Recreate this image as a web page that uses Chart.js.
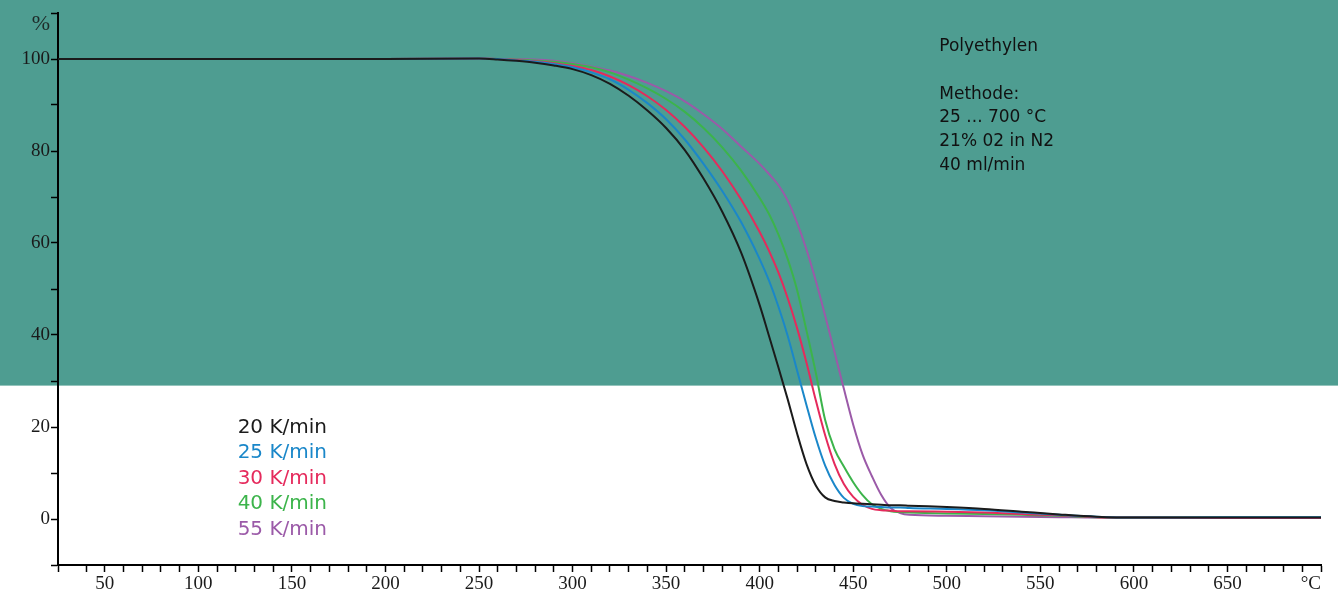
<!DOCTYPE html>
<html>
<head>
<meta charset="utf-8">
<title>Polyethylen TGA</title>
<script src="https://cdn.jsdelivr.net/npm/chart.js@4.4.1/dist/chart.umd.min.js"></script>
<style>
    html, body { margin: 0; padding: 0; background: #fff; }
    #wrap { width: 1338px; height: 596px; position: relative; }
</style>
</head>
<body>
<div id="wrap"><canvas id="tga"></canvas></div>
<script>
// --- DATA ---
const temps = [25, 50, 100, 150, 200,
    250, 260, 270, 280, 290, 300, 310, 320, 330, 340, 350, 360, 370, 380, 390,
    400, 405, 410, 415, 420, 425, 430, 435, 440, 445, 450, 455, 460, 465, 470, 475, 480,
    500, 520, 540, 560, 580, 600, 650, 700];

const rate20 = [100, 100, 100, 100, 100,
    100.1, 99.9, 99.6, 99.2, 98.6, 97.8, 96.5, 94.6, 92.0, 88.8, 85.0, 80.2, 74.0, 66.8, 58.0,
    46.5, 39.8, 33, 26, 18.6, 12, 7.3, 4.7, 3.9, 3.6, 3.4, 3.3, 3.2, 3.1, 3.0, 3.0, 2.9,
    2.6, 2.2, 1.6, 1.0, 0.5, 0.3, 0.3, 0.3];
const rate25 = [100, 100, 100, 100, 100,
    100.1, 100, 99.7, 99.4, 98.9, 98.2, 97.1, 95.6, 93.3, 90.4, 86.9, 82.5, 77.2, 71.3, 64.6,
    56.5, 51.8, 46.2, 39.8, 32.3, 24.8, 17.6, 11.6, 7.4, 4.6, 3.3, 2.8, 2.7, 2.6, 2.5, 2.5, 2.4,
    2.2, 1.9, 1.4, 0.9, 0.5, 0.3, 0.4, 0.4];
const rate30 = [100, 100, 100, 100, 100,
    100.1, 100, 99.8, 99.5, 99.1, 98.5, 97.6, 96.2, 94.3, 91.9, 88.9, 85.2, 80.8, 75.6, 69.5,
    62.4, 58.3, 53.6, 48, 41.5, 34, 25.8, 18.2, 12, 7.6, 4.8, 3.1, 2.2, 1.9, 1.8, 1.7, 1.7,
    1.6, 1.4, 1.1, 0.8, 0.4, 0.3, 0.2, 0.2];
const rate40 = [100, 100, 100, 100, 100,
    100.1, 100, 99.9, 99.7, 99.4, 98.9, 98.2, 97.1, 95.5, 93.6, 91.3, 88.5, 85.0, 80.8, 75.8,
    69.8, 66.3, 61.9, 56.5, 49.8, 41, 31.8, 21.5, 15.2, 11.4, 8.0, 5.2, 3.2, 2.2, 1.7, 1.5, 1.4,
    1.2, 1.1, 0.9, 0.7, 0.4, 0.3, 0.3, 0.3];
const rate55 = [100, 100, 100, 100, 100,
    100.1, 100, 100, 99.9, 99.6, 99.1, 98.4, 97.5, 96.3, 94.8, 93, 90.8, 88, 84.8, 81,
    77.2, 75, 72.6, 69.2, 64.4, 58.6, 51.8, 44.2, 36.3, 28.3, 20.5, 14, 9.3, 5.2, 2.4, 1.3, 0.9,
    0.7, 0.6, 0.5, 0.4, 0.3, 0.3, 0.3, 0.3];

const seriesLabels = ['20 K/min', '25 K/min', '30 K/min', '40 K/min', '55 K/min'];
const seriesColors = ['#1b1b1b', '#1a87c9', '#e52a5c', '#3cb44b', '#9b5aa8'];
const seriesValues = [rate20, rate25, rate30, rate40, rate55];

const noteLines = ['Polyethylen', '', 'Methode:', '25 ... 700 °C', '21% 02 in N2', '40 ml/min'];

const TEAL = '#4e9d91';
const SERIF = '"Liberation Serif", "Times New Roman", serif';
const SANS = '"DejaVu Sans", sans-serif';

// --- PLUGINS ---
const backdrop = {
    id: 'backdrop',
    beforeDraw(chart) {
        const { ctx, width, height } = chart;
        const yBand = chart.scales.y.getPixelForValue(29);
        ctx.save();
        ctx.fillStyle = '#fff';
        ctx.fillRect(0, 0, width, height);
        ctx.fillStyle = TEAL;
        ctx.fillRect(0, 0, width, yBand);
        ctx.restore();
    }
};

const texts = {
    id: 'texts',
    afterDraw(chart) {
        const { ctx, chartArea } = chart;
        const x = chart.scales.x, y = chart.scales.y;
        ctx.save();

        // unit on the y axis
        ctx.font = '22px ' + SERIF;
        ctx.fillStyle = '#1e2b29';
        ctx.textAlign = 'right';
        ctx.textBaseline = 'alphabetic';
        ctx.fillText('%', chartArea.left - 8, chartArea.top + 17);

        // legend block
        ctx.font = '20px ' + SANS;
        ctx.textAlign = 'left';
        const lx = x.getPixelForValue(121);
        const ly = y.getPixelForValue(18.7);
        chart.data.datasets.forEach((ds, i) => {
            ctx.fillStyle = ds.borderColor;
            ctx.fillText(ds.label, lx, ly + i * 25.5);
        });

        // method notes
        ctx.font = '17px ' + SANS;
        ctx.fillStyle = '#111';
        const nx = x.getPixelForValue(496);
        const ny = y.getPixelForValue(101.8);
        noteLines.forEach((line, i) => {
            const yy = i === 0 ? ny : ny + 24 + (i - 1) * 23.8;
            if (line) ctx.fillText(line, nx, yy);
        });
        ctx.restore();
    }
};

// --- CHART ---
const datasets = seriesValues.map((vals, i) => ({
    label: seriesLabels[i],
    data: temps.map((t, k) => ({ x: t, y: vals[k] })),
    borderColor: seriesColors[i],
    borderWidth: 2,
    pointRadius: 0,
    fill: false,
    cubicInterpolationMode: 'monotone',
    order: i + 1
}));

new Chart(document.getElementById('tga'), {
    type: 'line',
    data: { datasets },
    plugins: [backdrop, texts],
    options: {
        responsive: true,
        maintainAspectRatio: false,
        animation: false,
        layout: { padding: { top: 13, right: 17, left: 0, bottom: 0 } },
        plugins: { legend: { display: false }, tooltip: { enabled: false } },
        scales: {
            x: {
                type: 'linear',
                min: 25,
                max: 700,
                afterFit(scale) { scale.height = 31; },
                border: { display: true, color: '#000', width: 2 },
                grid: { drawOnChartArea: false, drawTicks: true, tickLength: 7, tickColor: '#000', tickWidth: 1.5 },
                ticks: {
                    stepSize: 10,
                    autoSkip: false,
                    maxRotation: 0,
                    align: 'inner',
                    padding: 1,
                    color: '#1a1a1a',
                    font: { family: SERIF, size: 19 },
                    callback: v => v === 700 ? '°C' : (v % 50 === 0 ? String(v) : '')
                }
            },
            y: {
                type: 'linear',
                min: -10,
                max: 110,
                afterFit(scale) { scale.width = 58; },
                border: { display: true, color: '#000', width: 2 },
                grid: { drawOnChartArea: false, drawTicks: true, tickLength: 7, tickColor: '#000', tickWidth: 1.5 },
                ticks: {
                    stepSize: 10,
                    autoSkip: false,
                    padding: 1,
                    color: '#1a1a1a',
                    font: { family: SERIF, size: 19 },
                    callback: v => (v % 20 === 0 && v >= 0 && v <= 100) ? String(v) : ''
                }
            }
        }
    }
});
</script>
</body>
</html>
